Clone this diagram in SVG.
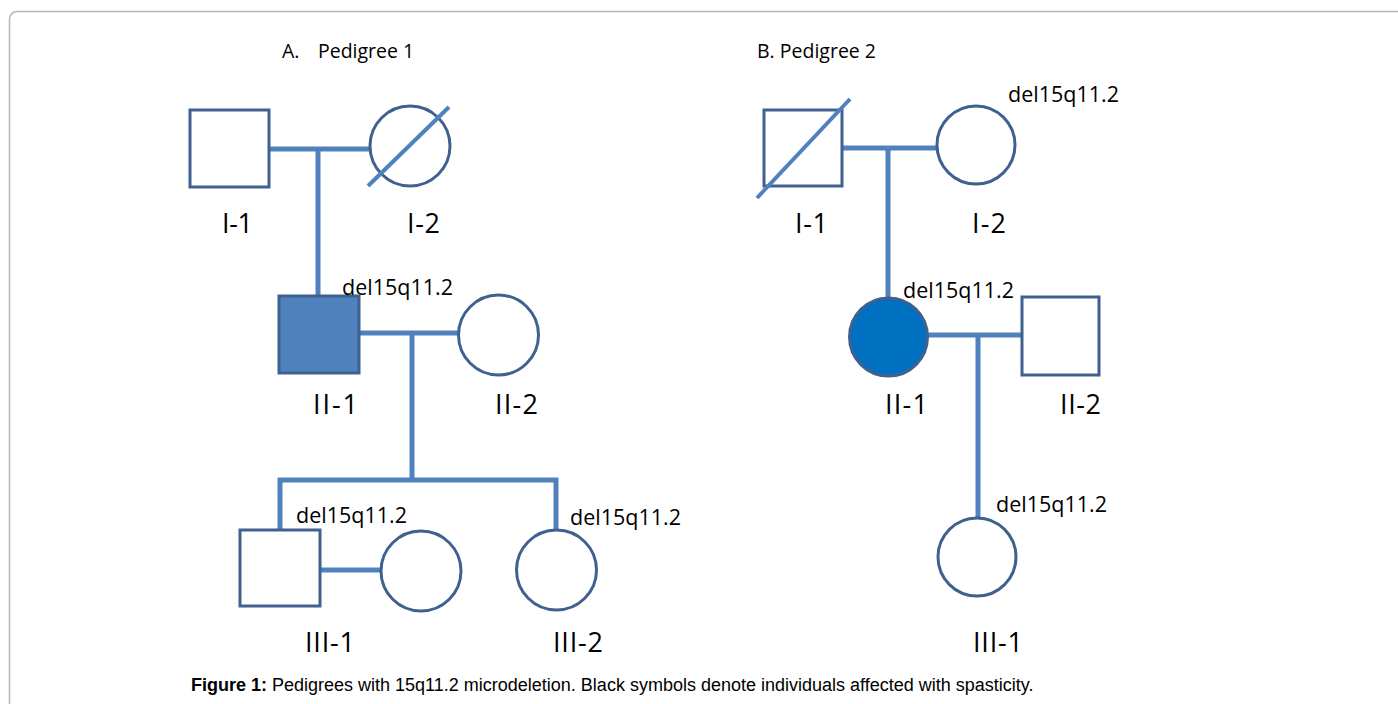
<svg xmlns="http://www.w3.org/2000/svg" width="1398" height="704" viewBox="0 0 1398 704">
<style>
.sym{fill:#ffffff;stroke:#3f6190;stroke-width:3}
.line{stroke:#4f81bd;stroke-width:5;fill:none}
.slash{stroke:#4f81bd;stroke-width:4;fill:none}
.lbl{font-family:"Open Sans","Liberation Sans",sans-serif;font-size:27px;fill:#000}
.del{font-family:"Open Sans","Liberation Sans",sans-serif;font-size:21.5px;fill:#000}
.ttl{font-family:"Open Sans","Liberation Sans",sans-serif;font-size:19.5px;fill:#000}
.cap{font-family:"Liberation Sans",Arial,sans-serif;font-size:18px;fill:#000}
</style>
<rect width="1398" height="704" fill="#ffffff"/>
<path d="M9.5 704 L9.5 20 Q9.5 11.5 18 11.5 L1398 11.5" fill="none" stroke="#b4b4b4" stroke-width="1.5"/>

<text class="ttl" x="282" y="58">A.</text>
<text class="ttl" x="318" y="58">Pedigree 1</text>
<text class="ttl" x="757" y="58">B. Pedigree 2</text>

<g id="connectors">
  <!-- Pedigree A -->
  <line class="line" x1="269" y1="149" x2="370" y2="149"/>
  <line class="line" x1="318" y1="149" x2="318" y2="296"/>
  <line class="line" x1="360" y1="333" x2="459" y2="333"/>
  <line class="line" x1="412" y1="333" x2="412" y2="480"/>
  <polyline class="line" points="280,530 280,480 556,480 556,530"/>
  <line class="line" x1="320" y1="570" x2="381" y2="570"/>
  <!-- Pedigree B -->
  <line class="line" x1="842" y1="148" x2="937" y2="148"/>
  <line class="line" x1="888" y1="148" x2="888" y2="298"/>
  <line class="line" x1="927" y1="335" x2="1022" y2="335"/>
  <line class="line" x1="978" y1="335" x2="978" y2="518"/>
</g>

<g id="A-I-1">
  <rect class="sym" x="190" y="110" width="79" height="77"/>
  <text class="lbl" x="222" y="233" textLength="31" lengthAdjust="spacing">I-1</text>
</g>
<g id="A-I-2">
  <circle class="sym" cx="410" cy="146" r="40"/>
  <line class="slash" x1="368" y1="186" x2="449" y2="107"/>
  <text class="lbl" x="407" y="233" textLength="33" lengthAdjust="spacing">I-2</text>
</g>
<g id="A-II-1">
  <rect class="sym" x="279" y="296" width="80" height="77" style="fill:#4f81bd"/>
  <text class="del" x="342" y="295">del15q11.2</text>
  <text class="lbl" x="313" y="414" textLength="45" lengthAdjust="spacing">II-1</text>
</g>
<g id="A-II-2">
  <circle class="sym" cx="498.5" cy="335" r="40"/>
  <text class="lbl" x="495" y="414" textLength="43" lengthAdjust="spacing">II-2</text>
</g>
<g id="A-III-1">
  <rect class="sym" x="240" y="530" width="80" height="76"/>
  <text class="del" x="296" y="523">del15q11.2</text>
  <text class="lbl" x="305" y="652" textLength="50" lengthAdjust="spacing">III-1</text>
</g>
<g id="A-III-1-spouse">
  <circle class="sym" cx="421" cy="571" r="40"/>
</g>
<g id="A-III-2">
  <circle class="sym" cx="556.5" cy="570" r="40"/>
  <text class="del" x="570" y="525">del15q11.2</text>
  <text class="lbl" x="553" y="652" textLength="50" lengthAdjust="spacing">III-2</text>
</g>

<g id="B-I-1">
  <rect class="sym" x="764" y="110" width="78" height="76"/>
  <line class="slash" x1="757" y1="198" x2="850" y2="99"/>
  <text class="lbl" x="795" y="233" textLength="33" lengthAdjust="spacing">I-1</text>
</g>
<g id="B-I-2">
  <circle class="sym" cx="976" cy="145" r="39"/>
  <text class="del" x="1008" y="102">del15q11.2</text>
  <text class="lbl" x="972" y="233" textLength="34" lengthAdjust="spacing">I-2</text>
</g>
<g id="B-II-1">
  <circle class="sym" cx="888.5" cy="337" r="39" style="fill:#0070c0"/>
  <text class="del" x="903" y="298">del15q11.2</text>
  <text class="lbl" x="885" y="414" textLength="43" lengthAdjust="spacing">II-1</text>
</g>
<g id="B-II-2">
  <rect class="sym" x="1022" y="297" width="77" height="78"/>
  <text class="lbl" x="1060" y="414" textLength="41" lengthAdjust="spacing">II-2</text>
</g>
<g id="B-III-1">
  <circle class="sym" cx="977" cy="557" r="39"/>
  <text class="del" x="996" y="512">del15q11.2</text>
  <text class="lbl" x="973" y="652" textLength="50" lengthAdjust="spacing">III-1</text>
</g>

<text class="cap" x="191" y="691"><tspan font-weight="bold">Figure 1:</tspan> Pedigrees with 15q11.2 microdeletion. Black symbols denote individuals affected with spasticity.</text>
</svg>
